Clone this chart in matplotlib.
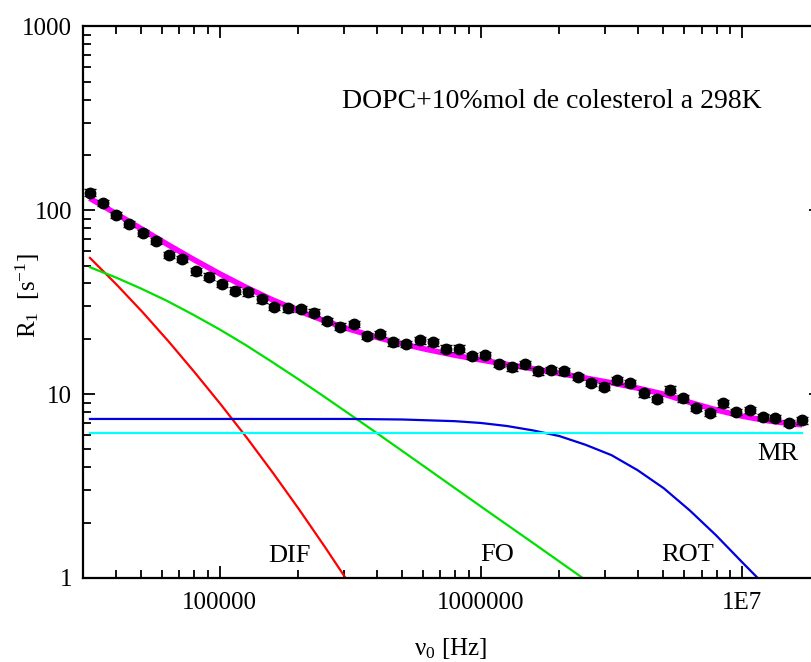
import matplotlib
matplotlib.use("Agg")
import matplotlib.pyplot as plt
from matplotlib.ticker import LogLocator, NullFormatter

plt.rcParams["font.family"] = ["Liberation Serif", "DejaVu Serif"]
plt.rcParams["mathtext.fontset"] = "custom"
plt.rcParams["mathtext.rm"] = "Liberation Serif"
plt.rcParams["mathtext.it"] = "Liberation Serif"

# measured relaxation rates (Hz, s^-1)
freq = [31900, 35900, 40300, 45200, 50800, 57100, 64100, 72000, 80900, 90800,
        102000, 115000, 129000, 145000, 162000, 182000, 205000, 230000, 258000, 290000,
        326000, 366000, 411000, 462000, 519000, 583000, 655000, 736000, 827000, 928000,
        1.04e6, 1.17e6, 1.32e6, 1.48e6, 1.66e6, 1.86e6, 2.09e6, 2.35e6, 2.64e6, 2.97e6,
        3.33e6, 3.74e6, 4.21e6, 4.72e6, 5.31e6, 5.96e6, 6.69e6, 7.52e6, 8.45e6, 9.48e6,
        1.07e7, 1.20e7, 1.34e7, 1.51e7, 1.70e7]
r1 = [124.8, 109.3, 94.4, 84.0, 75.6, 68.4, 57.0, 54.2, 46.6, 43.6,
      39.8, 36.6, 35.8, 32.8, 29.9, 29.3, 29.0, 27.8, 25.1, 23.3,
      24.1, 20.7, 21.2, 19.1, 18.8, 19.6, 19.1, 17.7, 17.7, 16.1,
      16.3, 14.6, 14.0, 14.5, 13.3, 13.5, 13.3, 12.4, 11.5, 11.0,
      11.9, 11.5, 10.1, 9.4, 10.6, 9.5, 8.4, 7.9, 8.9, 8.0,
      8.2, 7.5, 7.4, 7.0, 7.2]
rel_err = 0.04

# model contributions
dif_x = [31900, 40300, 50760, 63900, 80430, 101200, 127500, 160500, 202000, 254300, 303600]
dif_y = [55.1, 39.5, 27.9, 19.3, 13.1, 8.77, 5.76, 3.71, 2.35, 1.46, 1.0]

fo_x = [31900, 39810, 50120, 63100, 79430, 100000, 125900, 158500, 199500, 251200,
        316200, 398100, 501200, 631000, 1.0e6, 1.585e6, 2.455e6]
fo_y = [49.0, 43.3, 37.5, 32.1, 27.0, 22.5, 18.5, 15.0, 12.1, 9.70,
        7.74, 6.17, 4.90, 3.89, 2.45, 1.55, 1.0]

rot_x = [31900, 316200, 501200, 794300, 1.0e6, 1.259e6, 1.585e6, 1.995e6, 2.512e6,
         3.162e6, 3.981e6, 5.012e6, 6.310e6, 7.943e6, 1.0e7, 1.148e7]
rot_y = [7.33, 7.33, 7.28, 7.13, 6.97, 6.71, 6.35, 5.92, 5.31,
         4.66, 3.86, 3.08, 2.33, 1.71, 1.22, 1.0]

mr_x = [31900, 1.70e7]
mr_y = [6.11, 6.11]

fit_x = [31800, 39810, 50120, 63100, 79430, 100000, 125900, 158500, 199500, 251200,
         316200, 398100, 501200, 631000, 794300, 1.0e6, 1.259e6, 1.585e6, 1.995e6,
         2.512e6, 3.162e6, 3.981e6, 5.012e6, 6.310e6, 7.943e6, 1.0e7, 1.259e7,
         1.585e7, 1.698e7]
fit_y = [116.4, 96.6, 79.4, 65.3, 54.1, 45.2, 38.2, 32.7, 28.5, 25.1,
         22.5, 20.4, 18.75, 17.42, 16.29, 15.35, 14.52, 13.74, 12.97,
         12.25, 11.53, 10.79, 10.0, 9.02, 8.22, 7.59, 7.16,
         6.87, 6.81]

W, H = 812, 662
fig = plt.figure(figsize=(W / 100, H / 100), dpi=100)
ax = fig.add_axes([0.1022, 0.1269, 0.9085, 0.8331])

ax.plot(dif_x, dif_y, color="#ff0000", lw=1.6)
ax.plot(fo_x, fo_y, color="#00e000", lw=1.6)
ax.plot(rot_x, rot_y, color="#0000e0", lw=1.6)
ax.plot(mr_x, mr_y, color="#00ffff", lw=1.6)
ax.plot(fit_x, fit_y, color="#ff00ff", lw=4.0, solid_capstyle="butt", zorder=3)
ax.errorbar(freq, r1, yerr=[v * rel_err for v in r1], fmt="o", color="black",
            ms=7.5, elinewidth=1.0, capsize=4.5, capthick=1.0, zorder=4)

ax.set_xscale("log")
ax.set_yscale("log")
ax.set_xlim(30000, 2e7)
ax.set_ylim(1, 1000)

ax.set_xticks([1e5, 1e6, 1e7], ["100000", "1000000", "1E7"])
ax.set_yticks([1, 10, 100, 1000], ["1", "10", "100", "1000"])
ax.xaxis.set_minor_locator(LogLocator(base=10, subs=range(2, 10)))
ax.yaxis.set_minor_locator(LogLocator(base=10, subs=range(2, 10)))
ax.xaxis.set_minor_formatter(NullFormatter())
ax.yaxis.set_minor_formatter(NullFormatter())
ax.tick_params(which="both", direction="in", top=True, right=True,
               width=1.3, labelsize=18, colors="black")
ax.tick_params(which="major", length=8.6)
ax.tick_params(which="minor", length=5.8)
ax.tick_params(axis="x", which="major", pad=10)
ax.tick_params(axis="y", which="major", pad=8)
for sp in ax.spines.values():
    sp.set_linewidth(1.6)


def px_text(x, y, s, **kw):
    # place text using pixel coordinates measured from the top-left corner
    fig.text(x / W, 1 - y / H, s, **kw)


px_text(451, 655, "ν$_0$ [Hz]", fontsize=18, ha="center", va="baseline")
px_text(28, 296, "R$_1$  [s$^{-1}$]", fontsize=18, ha="center", va="center",
        rotation=90)
px_text(762, 108, "DOPC+10%mol de colesterol a 298K", fontsize=20,
        ha="right", va="baseline")

for label, lx, ly in [("DIF", 268, 562), ("FO", 480, 561),
                      ("ROT", 661, 561), ("MR", 757, 460)]:
    px_text(lx, ly, label, fontsize=19, ha="left", va="baseline")

plt.savefig("out.png", dpi=100)
